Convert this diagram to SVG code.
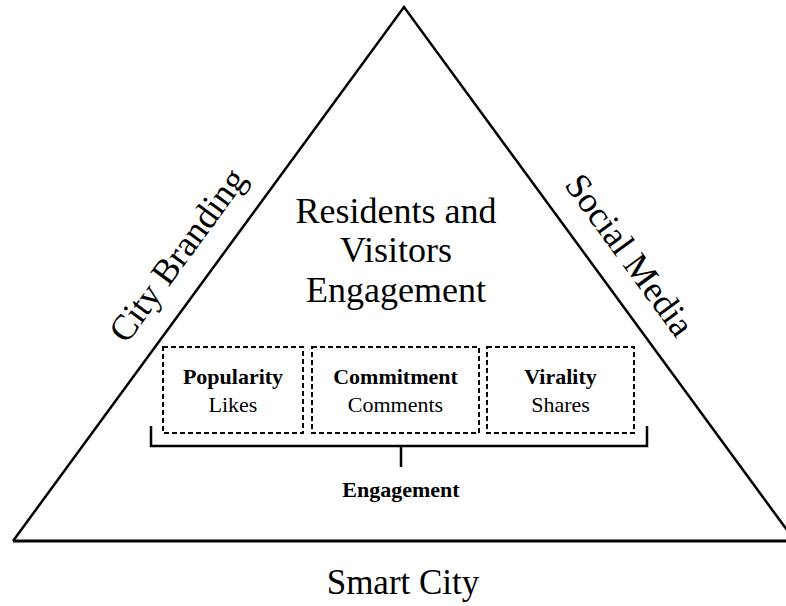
<svg xmlns="http://www.w3.org/2000/svg" width="786" height="606" viewBox="0 0 786 606">
<style>
.serif{font-family:"Liberation Serif","Times New Roman",serif;fill:#000}
.big{font-size:36px}
.side{font-size:36px}
.box{fill:none;stroke:#000;stroke-width:2;stroke-dasharray:5 3}
.bt{font-size:22px;text-anchor:middle}
.b{font-weight:bold}
.ln{fill:none;stroke:#000;stroke-width:2.5}
</style>
<rect width="786" height="606" fill="#fff"/>
<g id="triangle">
<path class="ln" d="M13,541 L404,7 L795,541"/>
<line x1="13" y1="541" x2="786" y2="541" stroke="#000" stroke-width="3"/>
</g>
<g id="city-branding">
<text class="serif side" text-anchor="middle" transform="translate(187,262) rotate(-53.8)">City Branding</text>
</g>
<g id="social-media">
<text class="serif side" text-anchor="middle" transform="translate(620,262) rotate(53.8)">Social Media</text>
</g>
<g id="center-title">
<text class="serif big" text-anchor="middle" x="396" y="223">Residents and</text>
<text class="serif big" text-anchor="middle" x="396" y="262">Visitors</text>
<text class="serif big" text-anchor="middle" x="396" y="302">Engagement</text>
</g>
<g id="popularity">
<rect class="box" x="163" y="347" width="140" height="86"/>
<text class="serif bt b" x="233" y="384">Popularity</text>
<text class="serif bt" x="233" y="412">Likes</text>
</g>
<g id="commitment">
<rect class="box" x="312" y="347" width="167" height="86"/>
<text class="serif bt b" x="395.5" y="384">Commitment</text>
<text class="serif bt" x="395.5" y="412">Comments</text>
</g>
<g id="virality">
<rect class="box" x="487" y="347" width="147" height="86"/>
<text class="serif bt b" x="560.5" y="384">Virality</text>
<text class="serif bt" x="560.5" y="412">Shares</text>
</g>
<g id="connectors">
<path class="ln" d="M151,426 V446 H647 V426 M401,446 V467"/>
</g>
<g id="engagement-label">
<text class="serif bt b" x="401" y="497" font-size="22.5">Engagement</text>
</g>
<g id="smart-city">
<text class="serif" font-size="35" text-anchor="middle" x="403" y="594">Smart City</text>
</g>
</svg>
